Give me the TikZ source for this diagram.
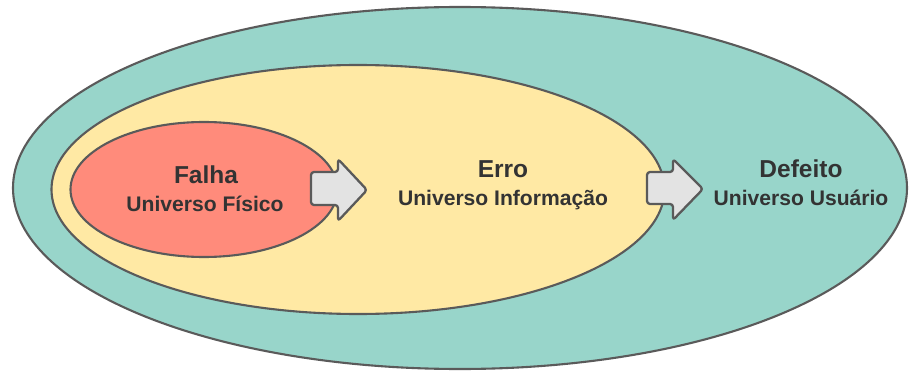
\documentclass[tikz,border=0pt]{standalone}
\usepackage{fontspec}
\setmainfont{Liberation Sans}
\usetikzlibrary{shapes.geometric}
\definecolor{teal1}{HTML}{98D5CA}
\definecolor{yellow1}{HTML}{FFE9A4}
\definecolor{red1}{HTML}{FF8B7B}
\definecolor{arrowfill}{HTML}{E3E3E3}
\definecolor{edge}{HTML}{5A5A5A}
\definecolor{txt}{HTML}{333333}
\tikzset{
  zone/.style={ellipse, draw=edge, line width=2.1pt, inner sep=0pt},
  blockarrow/.style={draw=edge, fill=arrowfill, line width=2.3pt, rounded corners=3pt, line join=round},
  title/.style={anchor=base, text=txt, font=\bfseries\fontsize{24.5}{29}\selectfont, inner sep=0pt},
  subtitle/.style={anchor=base, text=txt, font=\bfseries\fontsize{21.1}{25}\selectfont, inner sep=0pt}
}
\begin{document}
\begin{tikzpicture}[x=1pt, y=-1pt]
\useasboundingbox (0,0) rectangle (909,374);
\node[zone, fill=teal1, minimum width=894pt, minimum height=362pt] (outer) at (460,188) {};
\node[zone, fill=yellow1, minimum width=613pt, minimum height=249pt] (middle) at (358,189.5) {};
\node[zone, fill=red1, minimum width=267pt, minimum height=135pt] (inner) at (204,189.5) {};
\draw[blockarrow] (311,172) -- (338,172) -- (338,159) -- (367,190) -- (338,221) -- (338,205) -- (311,205) -- cycle;
\draw[blockarrow] (647,172) -- (673,172) -- (673,159) -- (703,189) -- (673,220) -- (673,204) -- (647,204) -- cycle;
\node[title] (falha) at (206,183) {Falha};
\node[subtitle] (fisico) at (205,211) {Universo Físico};
\node[title] (erro) at (503,177) {Erro};
\node[subtitle] (info) at (503,205) {Universo Informação};
\node[title] (defeito) at (801,177) {Defeito};
\node[subtitle] (usuario) at (801,205) {Universo Usuário};
\end{tikzpicture}
\end{document}
